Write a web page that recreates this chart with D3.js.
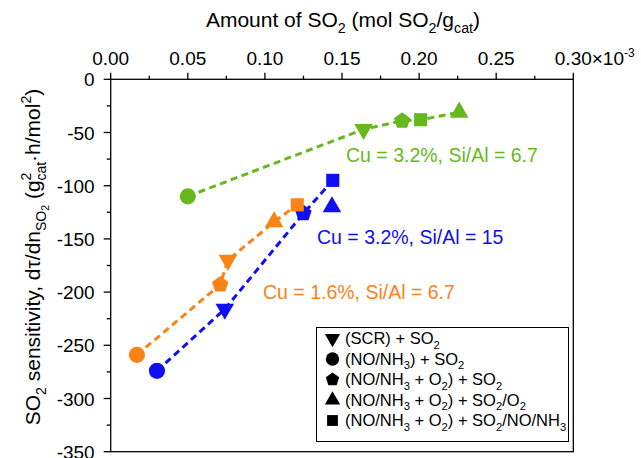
<!DOCTYPE html>
<html>
<head>
<meta charset="utf-8">
<script src="https://cdn.jsdelivr.net/npm/d3@7"></script>
<style>
  body { margin: 0; background: #fff; }
  svg { font-family: "Liberation Sans", Arial, sans-serif; }
</style>
</head>
<body>
<div id="app"></div>
<script>
// conditions, in legend order
var conditions = [
  [['(SCR) + SO'], ['2', 'sub']],
  [['(NO/NH'], ['3', 'sub'], [') + SO'], ['2', 'sub']],
  [['(NO/NH'], ['3', 'sub'], [' + O'], ['2', 'sub'], [') + SO'], ['2', 'sub']],
  [['(NO/NH'], ['3', 'sub'], [' + O'], ['2', 'sub'], [') + SO'], ['2', 'sub'], ['/O'], ['2', 'sub']],
  [['(NO/NH'], ['3', 'sub'], [' + O'], ['2', 'sub'], [') + SO'], ['2', 'sub'], ['/NO/NH'], ['3', 'sub']]
];
var symbolNames = ['triangleDown', 'circle', 'pentagon', 'triangle', 'square'];

// amount of SO2 (x 10^-3 mol/g) and sensitivity, one value per condition
var greenX  = [0.164, 0.050, 0.189, 0.226, 0.201];
var greenY  = [-47, -110, -39, -31, -38];
var blueX   = [0.074, 0.030, 0.125, 0.1435, 0.144];
var blueY   = [-216, -274, -126, -120, -95];
var orangeX = [0.076, 0.017, 0.071, 0.106, 0.121];
var orangeY = [-170, -259, -193, -134, -118];

// order in which the dashed line joins the points
var greenLine  = [1, 0, 2, 4, 3];
var blueLine   = [1, 0, 2, 4];
var orangeLine = [1, 2, 0, 3, 4];

var seriesLabels = ['Cu = 3.2%, Si/Al = 6.7', 'Cu = 3.2%, Si/Al = 15', 'Cu = 1.6%, Si/Al = 6.7'];

var xTicks = [0, 0.05, 0.10, 0.15, 0.20, 0.25, 0.30];
var yTicks = [0, -50, -100, -150, -200, -250, -300, -350];

var series = [
  {x: greenX,  y: greenY,  line: greenLine,  color: '#67b81e', label: seriesLabels[0], lx: 346, ly: 162},
  {x: blueX,   y: blueY,   line: blueLine,   color: '#0f0ff2', label: seriesLabels[1], lx: 317, ly: 244},
  {x: orangeX, y: orangeY, line: orangeLine, color: '#fb8316', label: seriesLabels[2], lx: 263, ly: 299}
];

var W = 641, H = 458;
var pLeft = 110.7, pTop = 79.3, pRight = 573.3, pBottom = 451.7;

var svg = d3.select('#app').append('svg')
    .attr('width', W)
    .attr('height', H);

var x = d3.scaleLinear().domain([0, 0.30]).range([pLeft, pRight]);
var y = d3.scaleLinear().domain([-350, 0]).range([pBottom, pTop]);

// pentagon symbol
var pentagon = {
  draw: function(ctx, size) {
    var r = Math.sqrt(size / 2.3776);
    for (var i = 0; i < 5; i++) {
      var a = -Math.PI / 2 + i * 2 * Math.PI / 5;
      if (i === 0) ctx.moveTo(r * Math.cos(a), r * Math.sin(a));
      else ctx.lineTo(r * Math.cos(a), r * Math.sin(a));
    }
    ctx.closePath();
  }
};
function symbolPath(name, k) {
  var types = {circle: [d3.symbolCircle, 205], square: [d3.symbolSquare, 172],
    triangle: [d3.symbolTriangle, 150], triangleDown: [d3.symbolTriangle, 150], pentagon: [pentagon, 175]};
  var t = types[name];
  return d3.symbol().type(t[0]).size(t[1] * k)();
}
function symbolTransform(name, px, py) {
  if (name === 'triangleDown') return 'translate(' + px + ',' + py + ') rotate(180)';
  return 'translate(' + px + ',' + py + ')';
}

// text with sub/sup parts
function richText(sel, parts, fs) {
  var shift = 0;
  parts.forEach(function(p) {
    var t = sel.append('tspan').text(p[0]);
    var target = p[1] === 'sub' ? fs * 0.28 : (p[1] === 'sup' ? -fs * 0.4 : 0);
    if (target !== shift) t.attr('dy', target - shift);
    shift = target;
    if (p[1]) t.attr('font-size', fs * 0.68);
  });
}

// frame
var axes = svg.append('g').attr('class', 'axes')
    .attr('stroke', '#000').attr('stroke-width', 1.3);
axes.append('rect')
    .attr('x', pLeft).attr('y', pTop)
    .attr('width', pRight - pLeft).attr('height', pBottom - pTop)
    .attr('fill', 'none');

// top axis ticks
d3.range(0, 13).forEach(function(i) {
  var v = i * 0.025;
  var major = i % 2 === 0;
  axes.append('line')
      .attr('x1', x(v)).attr('x2', x(v))
      .attr('y1', pTop).attr('y2', pTop - (major ? 6.6 : 3.6));
});
// left axis ticks
d3.range(0, 15).forEach(function(i) {
  var v = -i * 25;
  var major = i % 2 === 0;
  axes.append('line')
      .attr('x1', pLeft).attr('x2', pLeft - (major ? 7 : 4))
      .attr('y1', y(v)).attr('y2', y(v));
});

var tickFs = 19;
xTicks.forEach(function(v, i) {
  var lab = v.toFixed(2);
  if (i < xTicks.length - 1) {
    svg.append('text')
        .attr('x', x(v)).attr('y', 65)
        .attr('text-anchor', 'middle')
        .attr('font-size', tickFs)
        .text(lab);
  } else {
    var tmp = svg.append('text').attr('font-size', tickFs).text(lab);
    var w = tmp.node().getComputedTextLength();
    tmp.remove();
    var t = svg.append('text')
        .attr('x', x(v) - w / 2).attr('y', 65)
        .attr('font-size', tickFs);
    t.append('tspan').text(lab + '\u00d710');
    t.append('tspan').text('-3').attr('font-size', 12).attr('dy', -8);
  }
});
yTicks.forEach(function(v) {
  svg.append('text')
      .attr('x', pLeft - 16).attr('y', y(v) + 7)
      .attr('text-anchor', 'end')
      .attr('font-size', tickFs)
      .text(v);
});

// x title
var xt = svg.append('text')
    .attr('x', 343).attr('y', 27)
    .attr('text-anchor', 'middle')
    .attr('font-size', 21);
richText(xt, [['Amount of SO'], ['2', 'sub'], [' (mol SO'], ['2', 'sub'], ['/g'], ['cat', 'sub'], [')']], 21);

// y title
var yt = svg.append('text')
    .attr('transform', 'translate(40,' + 257 + ') rotate(-90)')
    .attr('text-anchor', 'middle')
    .attr('font-size', 21);
yt.append('tspan').text('SO');
yt.append('tspan').text('2').attr('font-size', 14).attr('dy', 6);
yt.append('tspan').text(' sensitivity, d\u03c4/dn').attr('dy', -6);
yt.append('tspan').text('SO').attr('font-size', 14).attr('dy', 6);
yt.append('tspan').text('2').attr('font-size', 10.5).attr('dy', 3);
yt.append('tspan').text(' (g').attr('dy', -9);
yt.append('tspan').text('2').attr('font-size', 14).attr('dy', -9);
yt.append('tspan').text('cat').attr('font-size', 14).attr('dx', -8).attr('dy', 15);
yt.append('tspan').text('\u00b7h/mol').attr('dy', -6);
yt.append('tspan').text('2').attr('font-size', 14).attr('dy', -9);
yt.append('tspan').text(')').attr('dy', 9);

// series
var plot = svg.append('g').attr('class', 'graph');
var line = d3.line().x(function(d) { return d[0]; }).y(function(d) { return d[1]; });

series.forEach(function(s) {
  var pts = s.line.map(function(i) { return [x(s.x[i]), y(s.y[i])]; });
  plot.append('path')
      .attr('d', line(pts))
      .attr('fill', 'none')
      .attr('stroke', s.color)
      .attr('stroke-width', 3)
      .attr('stroke-dasharray', '7,4.5');
});
series.forEach(function(s) {
  s.x.forEach(function(v, i) {
    plot.append('path')
        .attr('d', symbolPath(symbolNames[i], 1))
        .attr('transform', symbolTransform(symbolNames[i], x(v), y(s.y[i])))
        .attr('fill', s.color);
  });
  plot.append('text')
      .attr('x', s.lx).attr('y', s.ly)
      .attr('font-size', 19.5)
      .attr('fill', s.color)
      .text(s.label);
});

// legend
var legend = svg.append('g').attr('class', 'legend');
legend.append('rect')
    .attr('x', 316.5).attr('y', 327.5)
    .attr('width', 252).attr('height', 114)
    .attr('fill', '#fff')
    .attr('stroke', '#000')
    .attr('stroke-width', 1);
conditions.forEach(function(c, i) {
  var ry = 338.5 + i * 20.5;
  legend.append('path')
      .attr('d', symbolPath(symbolNames[i], 0.68))
      .attr('transform', symbolTransform(symbolNames[i], 332.5, ry))
      .attr('fill', '#000');
  var t = legend.append('text')
      .attr('x', 345).attr('y', ry + 5.5)
      .attr('font-size', 16.5);
  richText(t, c, 16.5);
});
</script>
</body>
</html>
